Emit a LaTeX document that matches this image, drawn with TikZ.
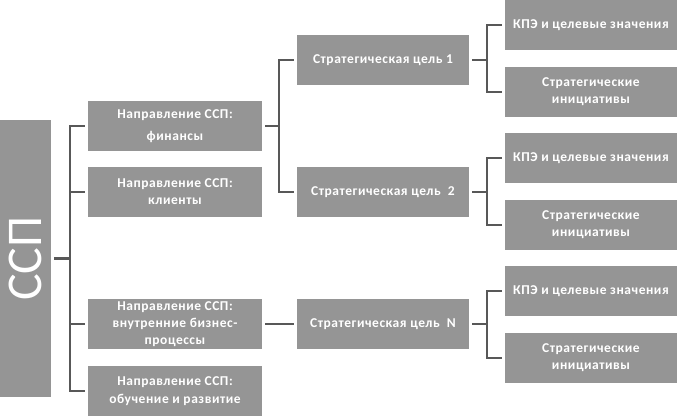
\documentclass[tikz,border=0pt]{standalone}
\usepackage{fontspec}
\setmainfont{Carlito}
\newfontfamily\boxfont[LetterSpace=4]{Carlito}
\definecolor{boxgray}{HTML}{959595}
\definecolor{linegray}{HTML}{585858}
\begin{document}
\begin{tikzpicture}[x=1pt,y=-1pt,
  gbox/.style={fill=boxgray, draw=none, text=white, minimum width=172pt, minimum height=50pt,
    inner sep=2pt, align=center, font=\boxfont\fontsize{13.5}{17}\selectfont\bfseries},
  conn/.style={draw=linegray, line width=2.8pt, line cap=butt, line join=miter}]
\useasboundingbox (0,0) rectangle (678,418);
% root
\node[fill=boxgray, minimum width=51pt, minimum height=277pt, inner sep=0pt] (ssp) at (25.5,258.5) {};
\node[text=white, rotate=90, font=\fontsize{50}{50}\selectfont] (ssptext) at (ssp.center) {ССП};
% directions
\node[gbox, minimum width=174pt, font=\boxfont\fontsize{13.5}{22}\selectfont\bfseries] (dir1) at (175,126) {Направление ССП:\\финансы};
\node[gbox, minimum width=174pt] (dir2) at (175,192) {Направление ССП:\\клиенты};
\node[gbox, minimum width=174pt] (dir3) at (175,324) {Направление ССП:\\внутренние бизнес-\\процессы};
\node[gbox, minimum width=174pt, font=\boxfont\fontsize{13.5}{18}\selectfont\bfseries] (dir4) at (175,391) {Направление ССП:\\обучение и развитие};
% goals
\node[gbox] (goal1) at (383,60) {Стратегическая цель 1};
\node[gbox] (goal2) at (383,192) {Стратегическая цель~~2};
\node[gbox] (goalN) at (383,324) {Стратегическая цель~~N};
% right column
\node[gbox] (kpi1) at (591,25) {КПЭ и целевые значения};
\node[gbox] (init1) at (591,92) {Стратегические\\инициативы};
\node[gbox] (kpi2) at (591,158) {КПЭ и целевые значения};
\node[gbox] (init2) at (591,225) {Стратегические\\инициативы};
\node[gbox] (kpi3) at (591,291) {КПЭ и целевые значения};
\node[gbox] (init3) at (591,358) {Стратегические\\инициативы};
% buses
\coordinate (busA) at (70,0);
\coordinate (busB) at (279,0);
\coordinate (busC) at (487,0);
% root to directions
\draw[conn] ([xshift=3pt]ssp.east) -- (busA |- ssp.east);
\draw[conn] ([xshift=-3pt]dir1.west) -| (busA |- dir4.west) -- ([xshift=-3pt]dir4.west);
\draw[conn] (busA |- dir2.west) -- ([xshift=-3pt]dir2.west);
\draw[conn] (busA |- dir3.west) -- ([xshift=-3pt]dir3.west);
% direction 1 to goals
\draw[conn] ([xshift=3pt]dir1.east) -- (busB |- dir1.east);
\draw[conn] ([xshift=-3pt]goal1.west) -| (busB |- goal2.west) -- ([xshift=-3pt]goal2.west);
% direction 3 to goal N
\draw[conn] ([xshift=3pt]dir3.east) -- ([xshift=-3pt]goalN.west);
% goals to KPI / initiatives
\draw[conn] ([xshift=3pt]goal1.east) -- (busC |- goal1.east);
\draw[conn] ([xshift=-3pt]kpi1.west) -| (busC |- init1.west) -- ([xshift=-3pt]init1.west);
\draw[conn] ([xshift=3pt]goal2.east) -- (busC |- goal2.east);
\draw[conn] ([xshift=-3pt]kpi2.west) -| (busC |- init2.west) -- ([xshift=-3pt]init2.west);
\draw[conn] ([xshift=3pt]goalN.east) -- (busC |- goalN.east);
\draw[conn] ([xshift=-3pt]kpi3.west) -| (busC |- init3.west) -- ([xshift=-3pt]init3.west);
\end{tikzpicture}
\end{document}
